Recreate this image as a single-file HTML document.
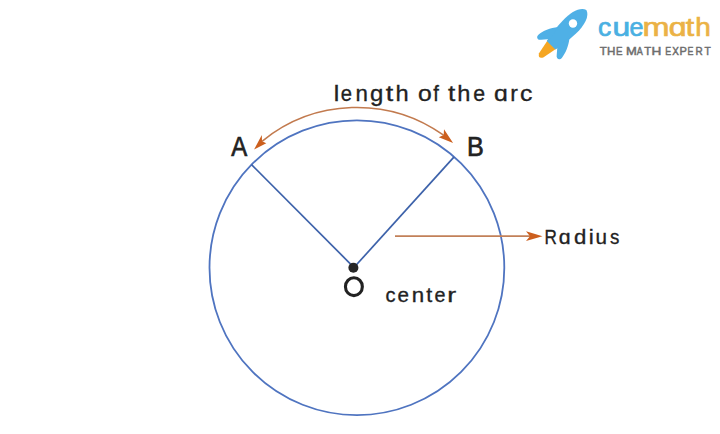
<!DOCTYPE html>
<html><head><meta charset="utf-8">
<style>
html,body{margin:0;padding:0;background:#fff;}
body{width:720px;height:434px;overflow:hidden;}
svg{display:block;}
text{font-family:"Liberation Sans",sans-serif;}
</style></head>
<body>
<svg width="720" height="434" viewBox="0 0 720 434">
<rect width="720" height="434" fill="#fff"/>
<circle cx="356.9" cy="267.7" r="147.4" fill="none" stroke="#4f74c0" stroke-width="1.8"/>
<line x1="354.3" y1="267.8" x2="251.5" y2="164.6" stroke="#3d62aa" stroke-width="1.7"/>
<line x1="353.7" y1="267.8" x2="454.1" y2="156.9" stroke="#3d62aa" stroke-width="1.7"/>
<circle cx="353.4" cy="267.8" r="5" fill="#262626"/>
<path d="M262,141.3 A149.7,149.7 0 0 1 443.6,135.2" fill="none" stroke="#c27a4e" stroke-width="1.6"/>
<path d="M254.1,149.4 L261.8,135 L262,141.3 L266.3,143.3 Z" fill="#cc5f1e"/>
<path d="M453.1,143 L444,129.2 L443.7,135.1 L438.8,137.2 Z" fill="#cc5f1e"/>
<line x1="395" y1="236.2" x2="531" y2="236.2" stroke="#c28058" stroke-width="1.7"/>
<path d="M542.5,236.2 L526,231.2 L530,236.2 L526,241 Z" fill="#cc5f1e"/>
<g fill="#222" stroke="#222" stroke-width="0.32">
<text x="333.69" y="100.8" font-size="22" textLength="5.51" lengthAdjust="spacingAndGlyphs">l</text>
<text x="340.80" y="100.8" font-size="22" textLength="11.24" lengthAdjust="spacingAndGlyphs">e</text>
<text x="355.48" y="100.8" font-size="22" textLength="12.41" lengthAdjust="spacingAndGlyphs">n</text>
<text x="370.05" y="100.8" font-size="22" textLength="13.33" lengthAdjust="spacingAndGlyphs">g</text>
<text x="385.85" y="100.8" font-size="22" textLength="7.49" lengthAdjust="spacingAndGlyphs">t</text>
<text x="395.52" y="100.8" font-size="22" textLength="13.16" lengthAdjust="spacingAndGlyphs">h</text>
<text x="418.12" y="100.8" font-size="22" textLength="13.76" lengthAdjust="spacingAndGlyphs">o</text>
<text x="433.17" y="100.8" font-size="22" textLength="5.64" lengthAdjust="spacingAndGlyphs">f</text>
<text x="448.06" y="100.8" font-size="22" textLength="7.27" lengthAdjust="spacingAndGlyphs">t</text>
<text x="457.22" y="100.8" font-size="22" textLength="13.16" lengthAdjust="spacingAndGlyphs">h</text>
<text x="473.26" y="100.8" font-size="22" textLength="11.83" lengthAdjust="spacingAndGlyphs">e</text>
<text x="494.12" y="100.8" font-size="22" textLength="13.83" lengthAdjust="spacingAndGlyphs">ɑ</text>
<text x="510.35" y="100.8" font-size="22" textLength="7.57" lengthAdjust="spacingAndGlyphs">r</text>
<text x="520.11" y="100.8" font-size="22" textLength="12.39" lengthAdjust="spacingAndGlyphs">c</text>
<text x="544.55" y="243.7" font-size="20.6" textLength="12.38" lengthAdjust="spacingAndGlyphs">R</text>
<text x="558.77" y="243.7" font-size="20.6" textLength="11.85" lengthAdjust="spacingAndGlyphs">ɑ</text>
<text x="573.93" y="243.7" font-size="20.6" textLength="12.34" lengthAdjust="spacingAndGlyphs">d</text>
<text x="588.85" y="243.7" font-size="20.6" textLength="5.01" lengthAdjust="spacingAndGlyphs">i</text>
<text x="595.42" y="243.7" font-size="20.6" textLength="11.49" lengthAdjust="spacingAndGlyphs">u</text>
<text x="609.94" y="243.7" font-size="20.6" textLength="9.38" lengthAdjust="spacingAndGlyphs">s</text>
<text x="385.40" y="302.4" font-size="20.4" textLength="10.07" lengthAdjust="spacingAndGlyphs">c</text>
<text x="397.58" y="302.4" font-size="20.4" textLength="11.47" lengthAdjust="spacingAndGlyphs">e</text>
<text x="411.88" y="302.4" font-size="20.4" textLength="12.41" lengthAdjust="spacingAndGlyphs">n</text>
<text x="426.34" y="302.4" font-size="20.4" textLength="5.96" lengthAdjust="spacingAndGlyphs">t</text>
<text x="434.52" y="302.4" font-size="20.4" textLength="11.00" lengthAdjust="spacingAndGlyphs">e</text>
<text x="447.29" y="302.4" font-size="20.4" textLength="8.90" lengthAdjust="spacingAndGlyphs">r</text>
</g>
<g fill="#222" stroke="#222" stroke-width="0.7">
<text x="231.30" y="156.25" font-size="28.2" textLength="15.99" lengthAdjust="spacingAndGlyphs">A</text>
<text x="466.88" y="156.15" font-size="28.2" textLength="16.79" lengthAdjust="spacingAndGlyphs">B</text>
</g>
<ellipse cx="353.9" cy="286.7" rx="8.45" ry="8.95" fill="none" stroke="#222" stroke-width="3.1"/>
<g transform="translate(586.4,10) rotate(45)">
<path d="M-7,44 L7,44 L3,64 Q0,69 -3,64 Z" fill="#f5a623"/>
<path d="M0,0 C6.5,2 9.6,12 9.3,24 C9,34 7.8,42 6,50 L-6,50 C-7.8,42 -9,34 -9.3,24 C-9.6,12 -6.5,2 0,0 Z" fill="#4fb0e6"/>
<path d="M-8,32 C-13,38 -16,46 -16.5,51 C-16.8,55 -13,56 -11,53 L-5,46 Z" fill="#4fb0e6"/>
<path d="M8,32 C13,38 16,46 16.5,51 C16.8,55 13,56 11,53 L5,46 Z" fill="#4fb0e6"/>
<circle cx="0" cy="19" r="4.2" fill="#fff"/>
</g>
<g fill="#4ab0e2" stroke="#4ab0e2" stroke-width="0.7">
<text x="598.03" y="35.8" font-size="26.5" textLength="13.22" lengthAdjust="spacingAndGlyphs">c</text>
<text x="612.59" y="35.8" font-size="26.5" textLength="17.67" lengthAdjust="spacingAndGlyphs">u</text>
<text x="629.48" y="35.8" font-size="26.5" textLength="13.99" lengthAdjust="spacingAndGlyphs">e</text>
</g>
<g fill="#ebb245" stroke="#ebb245" stroke-width="0.7">
<text x="642.40" y="35.8" font-size="26.5" textLength="26.99" lengthAdjust="spacingAndGlyphs">m</text>
<text x="668.71" y="35.8" font-size="26.5" textLength="17.81" lengthAdjust="spacingAndGlyphs">ɑ</text>
<text x="685.69" y="35.8" font-size="26.5" textLength="8.38" lengthAdjust="spacingAndGlyphs">t</text>
<text x="695.21" y="35.8" font-size="26.5" textLength="15.56" lengthAdjust="spacingAndGlyphs">h</text>
</g>
<g fill="#6e6e6e" stroke="#6e6e6e" stroke-width="0.5">
<text x="599.89" y="54.6" font-size="11.4" textLength="7.02" lengthAdjust="spacingAndGlyphs">T</text>
<text x="606.90" y="54.6" font-size="11.4" textLength="8.40" lengthAdjust="spacingAndGlyphs">H</text>
<text x="615.95" y="54.6" font-size="11.4" textLength="6.52" lengthAdjust="spacingAndGlyphs">E</text>
<text x="625.98" y="54.6" font-size="11.4" textLength="10.83" lengthAdjust="spacingAndGlyphs">M</text>
<text x="636.73" y="54.6" font-size="11.4" textLength="6.04" lengthAdjust="spacingAndGlyphs">A</text>
<text x="644.20" y="54.6" font-size="11.4" textLength="6.91" lengthAdjust="spacingAndGlyphs">T</text>
<text x="651.63" y="54.6" font-size="11.4" textLength="9.83" lengthAdjust="spacingAndGlyphs">H</text>
<text x="665.32" y="54.6" font-size="11.4" textLength="5.91" lengthAdjust="spacingAndGlyphs">E</text>
<text x="672.23" y="54.6" font-size="11.4" textLength="6.63" lengthAdjust="spacingAndGlyphs">X</text>
<text x="679.54" y="54.6" font-size="11.4" textLength="7.39" lengthAdjust="spacingAndGlyphs">P</text>
<text x="687.62" y="54.6" font-size="11.4" textLength="5.91" lengthAdjust="spacingAndGlyphs">E</text>
<text x="695.43" y="54.6" font-size="11.4" textLength="7.18" lengthAdjust="spacingAndGlyphs">R</text>
<text x="704.52" y="54.6" font-size="11.4" textLength="6.27" lengthAdjust="spacingAndGlyphs">T</text>
</g>
</svg>
</body></html>
